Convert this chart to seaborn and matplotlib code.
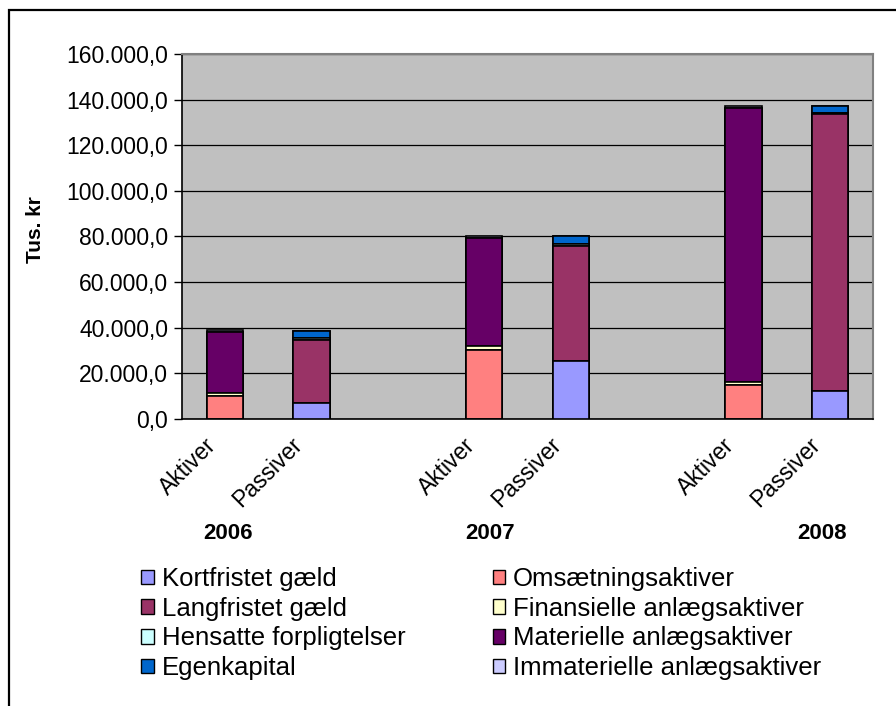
import numpy as np
import pandas as pd
import seaborn as sns
import matplotlib.pyplot as plt
from matplotlib.patches import Rectangle, Patch
from matplotlib.ticker import FuncFormatter
from matplotlib.transforms import ScaledTranslation

sns.set_theme(style="white")
plt.rcParams['font.family'] = ['Liberation Sans', 'DejaVu Sans']
plt.rcParams['text.color'] = 'black'
plt.rcParams['xtick.color'] = 'black'
plt.rcParams['ytick.color'] = 'black'
plt.rcParams['axes.labelcolor'] = 'black'

# data (Tus. kr)
columns = ["Aktiver 2006", "Passiver 2006", "Aktiver 2007", "Passiver 2007",
           "Aktiver 2008", "Passiver 2008"]
slot_order = ["Aktiver 2006", "Passiver 2006", "gap 1", "Aktiver 2007", "Passiver 2007",
              "gap 2", "Aktiver 2008", "Passiver 2008"]
tick_labels = ["Aktiver", "Passiver", "", "Aktiver", "Passiver", "", "Aktiver", "Passiver"]
years = ["2006", "2007", "2008"]

kortfristet = [0, 7000, 0, 25300, 0, 12100]
omsaetning = [9900, 0, 30400, 0, 14900, 0]
langfristet = [0, 27800, 0, 50700, 0, 121400]
finansielle = [1500, 0, 1500, 0, 1500, 0]
hensatte = [0, 900, 0, 800, 0, 500]
materielle = [26600, 0, 47500, 0, 120000, 0]
egenkapital = [0, 3000, 0, 3600, 0, 3400]
immaterielle = [900, 0, 1000, 0, 1000, 0]

series = ["Kortfristet gæld", "Omsætningsaktiver", "Langfristet gæld",
          "Finansielle anlægsaktiver", "Hensatte forpligtelser",
          "Materielle anlægsaktiver", "Egenkapital", "Immaterielle anlægsaktiver"]
values = [kortfristet, omsaetning, langfristet, finansielle, hensatte,
          materielle, egenkapital, immaterielle]
colors = ["#9999FF", "#FF8080", "#993366", "#FFFFCC", "#CCFFFF",
          "#660066", "#0066CC", "#CCCCFF"]

df = pd.DataFrame(dict(zip(series, values)), index=columns)
cum = df.cumsum(axis=1)

fig = plt.figure(figsize=(8.96, 7.06), dpi=100)
ax = fig.add_axes([182/896, 1-419/706, (873-182)/896, (419-54)/706])
ax.set_facecolor("#C0C0C0")

# stacked bars: draw cumulative totals from the top layer down
for name, col in zip(series[::-1], colors[::-1]):
    d = pd.DataFrame({"slot": columns, "val": cum[name].values})
    sns.barplot(data=d, x="slot", y="val", order=slot_order, color=col,
                width=0.42, errorbar=None, edgecolor="black", linewidth=1.2,
                saturation=1, ax=ax, zorder=3)

ax.set_ylim(0, 160000)
ax.set_xlim(-0.5, 7.5)
ax.set_yticks(np.arange(0, 160001, 20000))
ax.yaxis.set_major_formatter(FuncFormatter(
    lambda v, p: f"{v:,.1f}".replace(",", "X").replace(".", ",").replace("X", ".")))
ax.grid(axis="y", color="black", linewidth=0.9, zorder=0)
ax.set_axisbelow(True)

ax.set_xticks(range(8))
ax.set_xticks(np.arange(-0.5, 8, 1), minor=True)
ax.tick_params(axis="x", which="major", length=0, pad=14)
ax.tick_params(axis="x", which="minor", length=6, width=1, color="black", direction="out")
ax.tick_params(axis="y", length=6, width=1, color="black", direction="out",
               labelsize=16.5, pad=4, left=True)
ax.set_xticklabels(tick_labels, rotation=45, ha="right", va="top",
                   rotation_mode="anchor", fontsize=16.5)
shift = ScaledTranslation(-21/100, 5/100, fig.dpi_scale_trans)
for lbl in ax.get_xticklabels():
    lbl.set_transform(lbl.get_transform() + shift)
ax.set_xlabel("")
ax.set_ylabel("Tus. kr", fontsize=15, fontweight="bold")
ax.yaxis.set_label_coords(-0.198, 0.52)

for s in ["left", "bottom"]:
    ax.spines[s].set_color("black")
    ax.spines[s].set_linewidth(1.2)
for s in ["top", "right"]:
    ax.spines[s].set_color("#808080")
    ax.spines[s].set_linewidth(1.5)

# year labels under each group
for yr, xpos in zip(years, [0.03, 3.07, 6.91]):
    ax.text(xpos, -0.313, yr, transform=ax.get_xaxis_transform(), ha="center",
            va="center", fontsize=16, fontweight="bold")

# legend (two columns, row-major like the original)
handles = [Patch(facecolor=c, edgecolor="black", linewidth=1) for c in colors]
idx = [0, 2, 4, 6, 1, 3, 5, 7]
fig.legend([handles[i] for i in idx], [series[i] for i in idx], ncol=2,
           loc="upper left", bbox_to_anchor=(141/896, 1-567/706), frameon=False,
           fontsize=18.5, handlelength=0.5, handleheight=0.5, handletextpad=0.3,
           labelspacing=0.22, columnspacing=3.4, borderpad=0, borderaxespad=0)

# chart frame
fig.patches.append(Rectangle((9/896, -0.2), 1.2, 1.2 - 10/706, transform=fig.transFigure,
                             fill=False, edgecolor="black", linewidth=1.6))

fig.savefig("out.png", dpi=100, facecolor="white")
